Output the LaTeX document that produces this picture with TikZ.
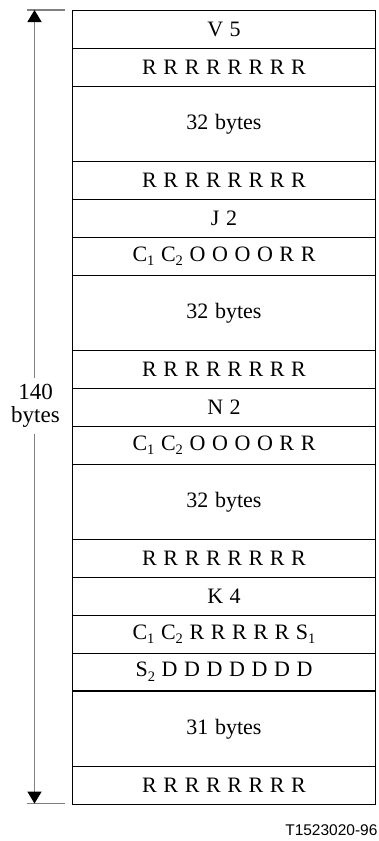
\documentclass[tikz,border=0pt]{standalone}
\usepackage{fontspec}
\setmainfont{Liberation Serif}
\newfontfamily\labelsans{Liberation Sans}
\usetikzlibrary{arrows.meta}
\newcommand{\sbs}[1]{\raisebox{-0.22em}{\fontsize{14.5}{14.5}\selectfont #1}}
\newcommand{\cellfont}{\fontsize{22}{25}\selectfont\spaceskip 0.3em plus 0.1em\relax}
\begin{document}
\begin{tikzpicture}[x=1pt,y=-1pt,
  cell/.style={draw=black, line width=1.1pt, minimum width=303.4pt, anchor=north,
    inner sep=0pt, font=\cellfont},
  one/.style={cell, minimum height=37.8pt},
  two/.style={cell, minimum height=75.6pt},
  tickline/.style={draw=gray, line width=1.2pt},
  dimarrow/.style={draw=gray, line width=1.2pt,
    {Triangle[length=12pt,width=14pt,color=black]}-{Triangle[length=12pt,width=14pt,color=black]}}
]
\useasboundingbox (0,0) rectangle (379,841);

\node[one] (r1)  at (224,10)    {V 5};
\node[one] (r2)  at (224,47.8)  {R R R R R R R R};
\node[two] (r3)  at (224,85.6)  {32 bytes};
\node[one] (r4)  at (224,161.2) {R R R R R R R R};
\node[one] (r5)  at (224,199)   {J 2};
\node[one] (r6)  at (224,236.8) {C\sbs{1} C\sbs{2} O O O O R R};
\node[two] (r7)  at (224,274.6) {32 bytes};
\node[one] (r8)  at (224,350.2) {R R R R R R R R};
\node[one] (r9)  at (224,388)   {N 2};
\node[one] (r10) at (224,425.8) {C\sbs{1} C\sbs{2} O O O O R R};
\node[two] (r11) at (224,463.6) {32 bytes};
\node[one] (r12) at (224,539.2) {R R R R R R R R};
\node[one] (r13) at (224,577)   {K 4};
\node[one] (r14) at (224,614.8) {C\sbs{1} C\sbs{2} R R R R R S\sbs{1}};
\node[one] (r15) at (224,652.6) {S\sbs{2} D D D D D D D};
\node[two] (r16) at (224,690.4) {31 bytes};
\node[one] (r17) at (224,766)   {R R R R R R R R};

\coordinate (tl) at (27,10);
\coordinate (tr) at (65,10);
\coordinate (bl) at (27,803.6);
\coordinate (br) at (65,803.6);
\coordinate (atop) at (34.5,10);
\coordinate (abot) at (34.5,803.6);

\draw[tickline] (tl) -- (tr);
\draw[tickline] (bl) -- (br);
\draw[dimarrow] (atop) -- (abot);

\node[fill=white, inner sep=0pt, minimum height=56pt, align=center,
  font=\fontsize{23}{23}\selectfont] (lbl) at (35.5,406) {140\\bytes};

\node[anchor=base east, inner sep=0pt, font=\labelsans\fontsize{15.5}{15.5}\selectfont] (fig) at (377.7,835) {T1523020-96};
\end{tikzpicture}
\end{document}
